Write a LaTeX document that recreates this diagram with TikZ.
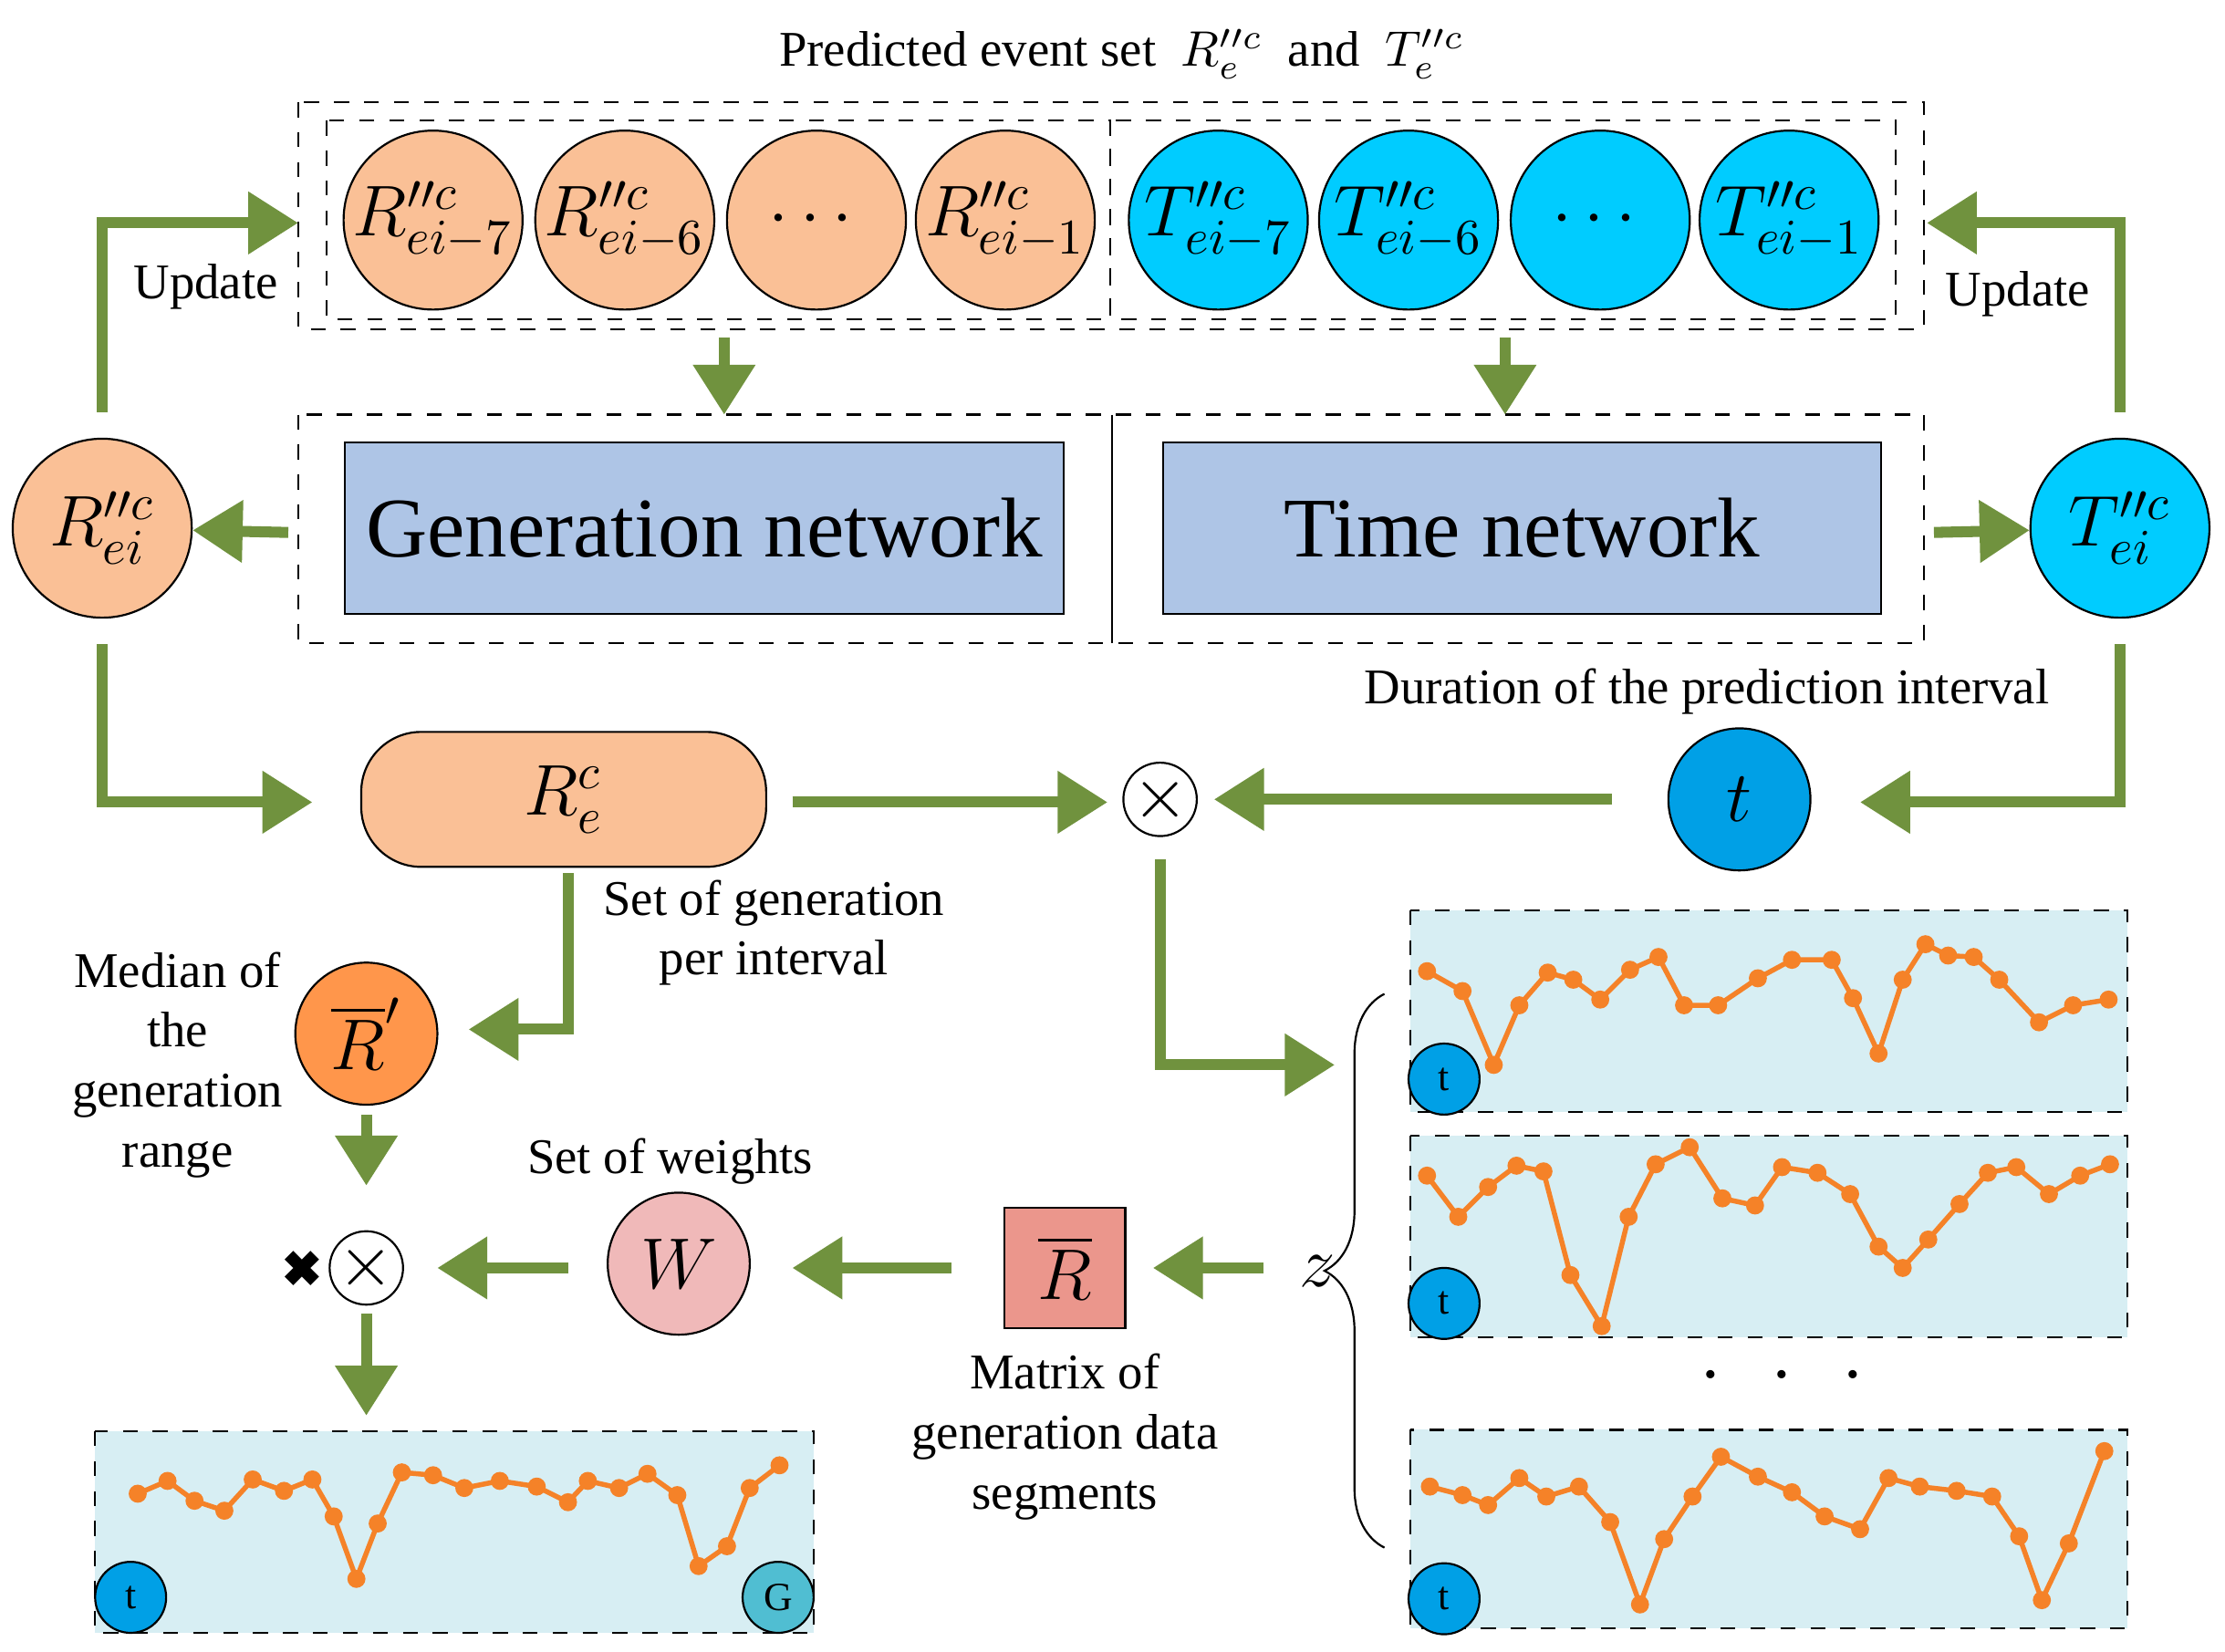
\documentclass[tikz,border=0pt]{standalone}
\usepackage{fontspec}
\setmainfont{Liberation Serif}
\usepackage{amsmath}
\usepackage{pifont}
\usetikzlibrary{arrows.meta}
\usetikzlibrary{decorations.pathreplacing}
\definecolor{arrowgreen}{RGB}{112,146,62}
\definecolor{rorange}{RGB}{250,192,150}
\definecolor{tcyan}{RGB}{0,204,255}
\definecolor{netblue}{RGB}{174,197,230}
\definecolor{tblue}{RGB}{0,160,230}
\definecolor{plotbg}{RGB}{215,238,243}
\definecolor{lineorange}{RGB}{245,130,40}
\definecolor{medorange}{RGB}{255,150,75}
\definecolor{wpink}{RGB}{240,185,185}
\definecolor{rsalmon}{RGB}{235,150,140}
\definecolor{gcyan}{RGB}{80,190,210}
\tikzset{
  flow/.style={arrowgreen, line width=2.2pt, -{Triangle[width=12pt,length=10pt]}},
  ev/.style={circle, draw, minimum size=1.26cm, inner sep=0pt, font=\fontsize{14}{14}\selectfont},
  lbl/.style={font=\fontsize{10}{12}\selectfont, align=center},
  dbox/.style={draw, dashed, thin},
  pbox/.style={draw, dashed, thin, fill=plotbg},
  mini/.style={circle, draw, fill=tblue, minimum size=0.5cm, inner sep=0pt, font=\fontsize{8}{8}\selectfont}
}
\newcommand{\series}[1]{%
  \draw[lineorange, line width=1pt] plot[mark=*, mark size=1.3pt, mark options={fill=lineorange}] coordinates {#1};}
\begin{document}
\begin{tikzpicture}[x=0.01cm, y=-0.01cm]
\useasboundingbox (0,0) rectangle (1567,1163);
% predicted event set
\node[lbl] (title) at (790,38) {Predicted event set \ $R^{\prime\prime c}_{e}$ \ and \ $T^{\prime\prime c}_{e}$};
\draw[dbox] (210,72) rectangle (1355,232);
\draw[dbox] (230,85) rectangle (782,225);
\draw[dbox] (782,85) rectangle (1335,225);
\node[ev, fill=rorange] (r7) at (305,155) {$R^{\prime\prime c}_{ei-7}$};
\node[ev, fill=rorange] (r6) at (440,155) {$R^{\prime\prime c}_{ei-6}$};
\node[ev, fill=rorange] (rd) at (575,155) {$\cdots$};
\node[ev, fill=rorange] (r1) at (708,155) {$R^{\prime\prime c}_{ei-1}$};
\node[ev, fill=tcyan] (t7) at (858,155) {$T^{\prime\prime c}_{ei-7}$};
\node[ev, fill=tcyan] (t6) at (992,155) {$T^{\prime\prime c}_{ei-6}$};
\node[ev, fill=tcyan] (td) at (1127,155) {$\cdots$};
\node[ev, fill=tcyan] (t1) at (1260,155) {$T^{\prime\prime c}_{ei-1}$};
% networks
\draw[dbox] (210,292) rectangle (1355,453);
\draw (783,292) -- (783,453);
\node[draw, fill=netblue, minimum width=5.06cm, minimum height=1.21cm, font=\fontsize{17}{17}\selectfont] (gen) at (496,372) {Generation network};
\node[draw, fill=netblue, minimum width=5.05cm, minimum height=1.21cm, font=\fontsize{17}{17}\selectfont] (time) at (1072,372) {Time network};
\coordinate (g1) at (510,238); \coordinate (g2) at (510,292);
\coordinate (h1) at (1060,238); \coordinate (h2) at (1060,292);
\draw[flow] (g1) -- (g2);
\draw[flow] (h1) -- (h2);
\node[ev, fill=rorange] (rei) at (72,372) {$R^{\prime\prime c}_{ei}$};
\node[ev, fill=tcyan] (tei) at (1493,372) {$T^{\prime\prime c}_{ei}$};
\coordinate (ml) at (203,375); \coordinate (mr) at (1362,375);
\draw[flow] (ml) -- (rei);
\draw[flow] (mr) -- (tei);
% update loops
\coordinate (ul) at (210,157); \coordinate (ur) at (1357,157);
\draw[flow] (rei.north) ++(0,-18) -- (72,157) -- (ul);
\draw[flow] (tei.north) ++(0,-18) -- (1493,157) -- (ur);
\node[lbl] (upl) at (145,202) {Update};
\node[lbl] (upr) at (1421,207) {Update};
% combination
\node[draw, fill=rorange, rounded corners=12pt, minimum width=2.85cm, minimum height=0.95cm, font=\fontsize{14}{14}\selectfont] (rce) at (397,563) {$R^{c}_{e}$};
\node[circle, draw, inner sep=0pt, minimum size=0.48cm, font=\Large] (mul) at (817,563) {$\times$};
\node[ev, fill=tblue, minimum size=1cm] (tt) at (1225,563) {$t$};
\node[lbl] (dur) at (1202,487) {Duration of the prediction interval};
\coordinate (a1) at (220,565);
\draw[flow] (rei.south) ++(0,18) -- (72,565) -- (a1);
\coordinate (a2) at (558,565); \coordinate (a3) at (780,565);
\draw[flow] (a2) -- (a3);
\coordinate (a4) at (1135,563); \coordinate (a5) at (855,563);
\draw[flow] (a4) -- (a5);
\coordinate (a6) at (1310,565);
\draw[flow] (tei.south) ++(0,18) -- (1493,565) -- (a6);
\coordinate (a7) at (940,750);
\draw[flow] (817,605) -- (817,750) -- (a7);
% median branch
\node[lbl] (setgen) at (545,657) {Set of generation\\per interval};
\node[ev, fill=medorange, minimum size=1cm] (rmed) at (258,728) {$\overline{R}'$};
\node[lbl] (medtxt) at (125,750) {Median of\\the\\generation\\range};
\coordinate (b1) at (330,725);
\draw[flow] (400,615) -- (400,725) -- (b1);
\node[circle, draw, inner sep=0pt, minimum size=0.48cm, font=\Large] (mul2) at (258,893) {$\times$};
\node[font=\normalsize] (cross) at (213,893) {\ding{54}};
\coordinate (b2) at (258,785); \coordinate (b3) at (258,835);
\draw[flow] (b2) -- (b3);
\coordinate (b4) at (258,925); \coordinate (b5) at (258,997);
\draw[flow] (b4) -- (b5);
\node[ev, fill=wpink, minimum size=1cm] (w) at (478,890) {$W$};
\node[lbl] (wtxt) at (472,818) {Set of weights};
\coordinate (b6) at (400,893); \coordinate (b7) at (308,893);
\draw[flow] (b6) -- (b7);
\coordinate (b8) at (670,893); \coordinate (b9) at (558,893);
\draw[flow] (b8) -- (b9);
\node[draw, fill=rsalmon, minimum size=0.85cm, inner sep=0pt, font=\fontsize{14}{14}\selectfont] (rbar) at (750,893) {$\overline{R}$};
\node[lbl] (mattxt) at (750,1012) {Matrix of\\generation data\\segments};
\coordinate (b10) at (890,893); \coordinate (b11) at (812,893);
\draw[flow] (b10) -- (b11);
\node[font=\fontsize{14}{14}\selectfont] (z) at (928,895) {$z$};
\draw[decorate, decoration={brace, amplitude=12pt}] (975,1090) -- (975,700);
\node[font=\fontsize{16}{16}\selectfont] (vdots) at (1255,968) {$.\;\;.\;\;.$};
% plots
\draw[pbox] (993,641) rectangle (1498,783);
\draw[pbox] (993,800) rectangle (1498,942);
\draw[pbox] (993,1007) rectangle (1498,1147);
\draw[pbox] (67,1008) rectangle (573,1150);
\series{(1005,684) (1030,698) (1052,750) (1070,708) (1090,685) (1108,690) (1127,704) (1148,683) (1168,674) (1186,708) (1210,708) (1238,689) (1262,676) (1290,676) (1305,703) (1323,742) (1340,690) (1356,665) (1372,673) (1390,674) (1408,690) (1436,720) (1460,708) (1485,704)}
\series{(1005,828) (1027,857) (1048,836) (1068,821) (1087,825) (1106,898) (1128,934) (1147,857) (1166,820) (1190,808) (1213,844) (1236,849) (1255,822) (1280,826) (1303,841) (1323,878) (1340,893) (1358,873) (1380,848) (1400,826) (1420,822) (1443,841) (1465,828) (1486,820)}
\series{(1007,1047) (1030,1053) (1048,1060) (1070,1041) (1089,1054) (1112,1047) (1134,1072) (1155,1130) (1172,1084) (1192,1054) (1212,1026) (1238,1040) (1262,1051) (1285,1068) (1310,1077) (1330,1041) (1352,1047) (1378,1050) (1403,1054) (1422,1082) (1438,1127) (1457,1087) (1482,1022)}
\series{(97,1052) (118,1043) (137,1057) (158,1064) (178,1042) (200,1050) (220,1042) (235,1068) (251,1112) (266,1073) (283,1037) (305,1039) (327,1048) (352,1043) (378,1047) (400,1058) (414,1043) (436,1048) (456,1038) (477,1053) (492,1103) (512,1089) (528,1048) (549,1032)}
\node[mini] (tp1) at (1017,760) {t};
\node[mini] (tp2) at (1017,918) {t};
\node[mini] (tp3) at (1017,1126) {t};
\node[mini] (tp4) at (92,1125) {t};
\node[mini, fill=gcyan] (gp4) at (548,1125) {G};
\end{tikzpicture}
\end{document}
